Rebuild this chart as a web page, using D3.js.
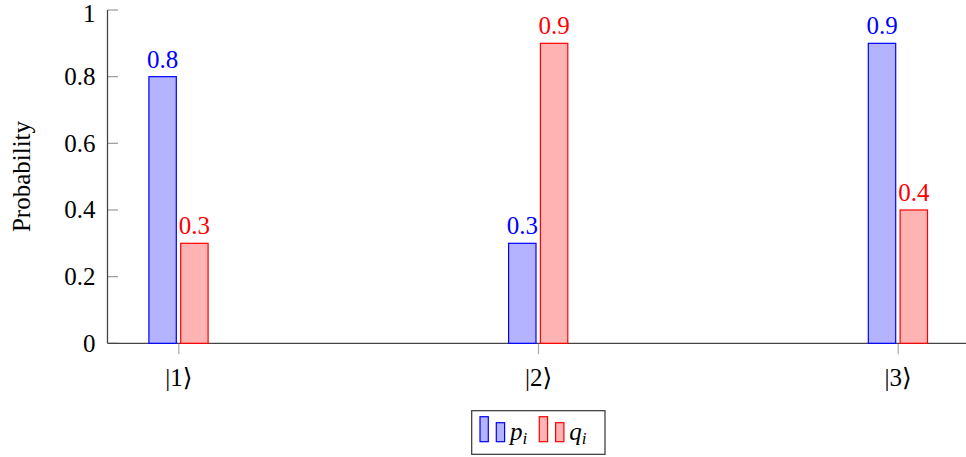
<!DOCTYPE html>
<html>
<head>
<meta charset="utf-8">
<script src="https://cdn.jsdelivr.net/npm/d3@7"></script>
<style>
  body { margin: 0; background: #fff; }
  svg text { font-family: "Liberation Serif", "DejaVu Serif", "Times New Roman", serif !important; }
</style>
</head>
<body>
<div class="container"></div>
<script>
const WIDTH = 966;
const HEIGHT = 457;

// data
var categories = ["|1\u27E9", "|2\u27E9", "|3\u27E9"];
var pValues = [0.8, 0.3, 0.9];
var qValues = [0.3, 0.9, 0.4];
var yTicks = [0, 0.2, 0.4, 0.6, 0.8, 1];

var BLUE = "#0000ff", BLUE_FILL = "#b3b3ff";
var RED = "#ff0000", RED_FILL = "#ffb3b3";
var BAR_W = 27.4;
var FONT = 25;

var translate = function (x, y) {
    return "translate(" + x + "," + y + ")";
};

var _xScale = d3.scalePoint()
    .domain(categories)
    .range([178.3, 897.7]);

var _yScale = d3.scaleLinear()
    .domain([0, 1])
    .range([343.3, 10]);

var svg = d3.select(".container").append("svg")
    .attr("width", WIDTH)
    .attr("height", HEIGHT);

// y axis
var yAxis = d3.axisLeft(_yScale)
    .tickValues(yTicks)
    .tickSize(0)
    .tickPadding(12)
    .tickFormat(function (d) { return d === 0 || d === 1 ? d3.format("d")(d) : d3.format(".1f")(d); });

var gy = svg.append("g")
    .attr("transform", translate(107.5, 0))
    .call(yAxis);
gy.select(".domain").remove();
gy.selectAll("text")
    .attr("font-size", FONT)
    .attr("fill", "#000");
// top label sits against the page edge, nudge it down a bit
gy.selectAll(".tick")
    .filter(function (d) { return d === 1; })
    .select("text")
    .attr("dy", "0.45em");

// inward y ticks
svg.append("g").selectAll("line")
    .data(yTicks)
    .enter().append("line")
    .attr("x1", 107.5).attr("x2", 118)
    .attr("y1", function (d) { return _yScale(d); })
    .attr("y2", function (d) { return _yScale(d); })
    .attr("stroke", "#999")
    .attr("stroke-width", 1.2);

// x axis
var xAxis = d3.axisBottom(_xScale)
    .tickSize(11)
    .tickPadding(14);
var gx = svg.append("g")
    .attr("transform", translate(0, 343.3))
    .call(xAxis);
gx.select(".domain").remove();
gx.selectAll(".tick line").attr("stroke", "#aaa").attr("stroke-width", 1.2);
gx.selectAll("text")
    .attr("font-size", FONT)
    .attr("fill", "#000");

// axis lines
svg.append("line")
    .attr("x1", 107.5).attr("x2", 107.5)
    .attr("y1", _yScale(1)).attr("y2", _yScale(0))
    .attr("stroke", "#444").attr("stroke-width", 1.3);
svg.append("line")
    .attr("x1", 107.5).attr("x2", WIDTH)
    .attr("y1", _yScale(0)).attr("y2", _yScale(0))
    .attr("stroke", "#444").attr("stroke-width", 1.3);

function drawSeries(values, dx, stroke, fill) {
    var g = svg.append("g");
    g.selectAll("rect")
        .data(values)
        .enter().append("rect")
        .attr("x", function (d, i) { return _xScale(categories[i]) + dx; })
        .attr("y", function (d) { return _yScale(d); })
        .attr("width", BAR_W)
        .attr("height", function (d) { return _yScale(0) - _yScale(d); })
        .attr("fill", fill)
        .attr("stroke", stroke)
        .attr("stroke-width", 1.2);
    g.selectAll("text")
        .data(values)
        .enter().append("text")
        .attr("x", function (d, i) { return _xScale(categories[i]) + dx + BAR_W / 2; })
        .attr("y", function (d) { return _yScale(d) - 9; })
        .attr("text-anchor", "middle")
        .attr("font-size", FONT)
        .attr("fill", stroke)
        .text(function (d) { return d3.format(".1f")(d); });
}

drawSeries(pValues, -29.4, BLUE, BLUE_FILL);
drawSeries(qValues, 2.4, RED, RED_FILL);

// y label
svg.append("text")
    .attr("transform", translate(30, 176.5) + " rotate(-90)")
    .attr("text-anchor", "middle")
    .attr("font-size", FONT)
    .text("Probability");

// legend
var legend = svg.append("g");
legend.append("rect")
    .attr("x", 471.7).attr("y", 410.7)
    .attr("width", 133.3).attr("height", 43.6)
    .attr("fill", "#fff").attr("stroke", "#333").attr("stroke-width", 1.2);

var legendItems = [
    { x: 480, stroke: BLUE, fill: BLUE_FILL, name: "p" },
    { x: 539.3, stroke: RED, fill: RED_FILL, name: "q" }
];
legendItems.forEach(function (it) {
    legend.append("rect")
        .attr("x", it.x).attr("y", 416.7).attr("width", 8.3).attr("height", 25)
        .attr("fill", it.fill).attr("stroke", it.stroke).attr("stroke-width", 1.2);
    legend.append("rect")
        .attr("x", it.x + 16.3).attr("y", 422.7).attr("width", 8.3).attr("height", 19)
        .attr("fill", it.fill).attr("stroke", it.stroke).attr("stroke-width", 1.2);
    var t = legend.append("text")
        .attr("x", it.x + 30).attr("y", 440)
        .attr("font-size", FONT)
        .attr("font-style", "italic");
    t.append("tspan").text(it.name);
    t.append("tspan").attr("font-size", 17).attr("dy", 4).text("i");
});
</script>
</body>
</html>
